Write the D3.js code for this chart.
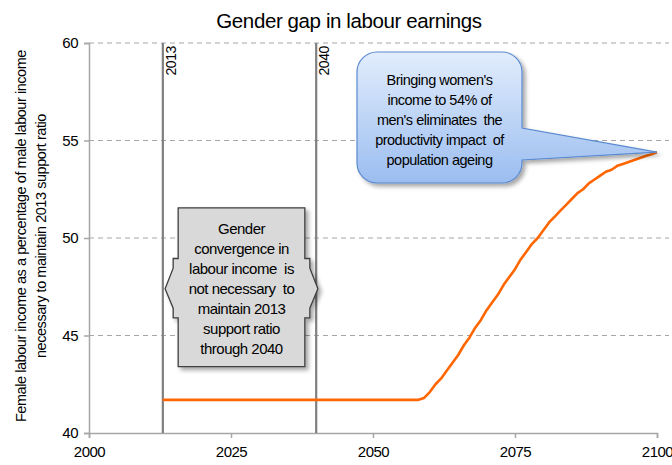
<!DOCTYPE html>
<html>
  <head>
    <title>Gender gap in labour earnings</title>
    <script src="https://cdn.jsdelivr.net/npm/d3@7"></script>
    <style>
      body {
        margin: 0;
        background: white;
      }
      svg {
        font-family: "Liberation Sans", Arial, sans-serif;
      }
      text {
        white-space: pre;
      }
    </style>
  </head>
  <body>
    <script>
    // data
    var years = [2013, 2058, 2059, 2060, 2061, 2062, 2063, 2064, 2065, 2066, 2067, 2068, 2069,
      2070, 2071, 2072, 2073, 2074, 2075, 2076, 2077, 2078, 2079, 2080, 2081, 2082, 2083,
      2084, 2085, 2086, 2087, 2088, 2089, 2090, 2091, 2092, 2093, 2094, 2095, 2096, 2097,
      2098, 2099, 2100];
    var values = [41.7, 41.7, 41.8, 42.1, 42.5, 42.8, 43.2, 43.6, 44.0, 44.5, 44.9, 45.4, 45.8,
      46.3, 46.7, 47.1, 47.6, 48.0, 48.4, 48.9, 49.3, 49.7, 50.0, 50.4, 50.8, 51.1, 51.4,
      51.7, 52.0, 52.3, 52.5, 52.8, 53.0, 53.2, 53.4, 53.5, 53.7, 53.8, 53.9, 54.0, 54.1,
      54.2, 54.3, 54.4];
    var xTicks = [2000, 2025, 2050, 2075, 2100];
    var yTicks = [40, 45, 50, 55, 60];
    var markerYears = [2013, 2040];

    var title = "Gender gap in labour earnings";
    var yLabel = ["Female labour income as a percentage of male labour income",
      "necessary to maintain 2013 support ratio"];
    var grayNote = ["Gender", "convergence in", "labour income  is", "not necessary  to",
      "maintain 2013", "support ratio", "through 2040"];
    var blueNote = ["Bringing women's", "income to 54% of", "men's eliminates  the",
      "productivity impact  of", "population ageing"];

    var W = 672, H = 465;
    var svg = d3.select("body").append("svg")
      .attr("width", W)
      .attr("height", H);

    var x = d3.scaleLinear().domain([2000, 2100]).range([89, 657]);
    var y = d3.scaleLinear().domain([40, 60]).range([433, 43]);

    var defs = svg.append("defs");
    var f = defs.append("filter").attr("id", "shadow")
      .attr("x", "-20%").attr("y", "-20%").attr("width", "150%").attr("height", "150%");
    f.append("feDropShadow").attr("dx", 3).attr("dy", 3)
      .attr("stdDeviation", 2).attr("flood-color", "#000").attr("flood-opacity", 0.35);
    var g = defs.append("linearGradient").attr("id", "blue")
      .attr("x1", 0).attr("y1", 0).attr("x2", 0).attr("y2", 1);
    g.append("stop").attr("offset", "0%").attr("stop-color", "#e2edfc");
    g.append("stop").attr("offset", "100%").attr("stop-color", "#9bbdf0");

    // title
    svg.append("text")
      .attr("x", 349).attr("y", 28)
      .attr("text-anchor", "middle")
      .style("font-size", "20.5px")
      .style("letter-spacing", "-0.4px")
      .text(title);

    // grid
    svg.selectAll(".grid")
      .data(yTicks.slice(1))
      .enter().append("line")
      .attr("x1", x(2000)).attr("x2", 669)
      .attr("y1", function (d) { return y(d); })
      .attr("y2", function (d) { return y(d); })
      .attr("stroke", "#a6a6a6")
      .attr("stroke-dasharray", "5,4");

    // axes
    var xAxis = svg.append("g")
      .attr("transform", "translate(0," + y(40) + ")")
      .call(d3.axisBottom(x).tickValues(xTicks).tickFormat(d3.format("d")).tickSize(5).tickPadding(8));
    var yAxis = svg.append("g")
      .attr("transform", "translate(" + x(2000) + ",0)")
      .call(d3.axisLeft(y).tickValues(yTicks).tickSize(5).tickPadding(6));
    [xAxis, yAxis].forEach(function (a) {
      a.select(".domain").attr("stroke", "#a6a6a6").attr("stroke-width", 1.5);
      a.selectAll(".tick line").attr("stroke", "#a6a6a6").attr("stroke-width", 1.5);
      a.selectAll("text").style("font-size", "15px").style("font-family", "Liberation Sans, Arial")
        .style("letter-spacing", "-0.5px").attr("fill", "#000");
    });

    // y label
    yLabel.forEach(function (t, i) {
      svg.append("text")
        .attr("transform", "translate(" + (26 + i * 20) + "," + y(50.1) + ") rotate(-90)")
        .attr("text-anchor", "middle")
        .style("font-size", "14.5px")
        .style("letter-spacing", "-0.45px")
        .text(t);
    });

    // marker lines
    markerYears.forEach(function (m) {
      svg.append("line")
        .attr("x1", x(m)).attr("x2", x(m))
        .attr("y1", y(60)).attr("y2", y(40))
        .attr("stroke", "#7f7f7f")
        .attr("stroke-width", 2.2);
      svg.append("text")
        .attr("transform", "translate(" + (x(m) + 13) + "," + (y(60) + 3) + ") rotate(-90)")
        .attr("text-anchor", "end")
        .style("font-size", "14px")
        .style("letter-spacing", "-0.4px")
        .text(m);
    });

    // series
    var pts = years.map(function (d, i) { return [d, values[i]]; });
    svg.append("path")
      .datum(pts)
      .attr("fill", "none")
      .attr("stroke", "#ff6600")
      .attr("stroke-width", 2.6)
      .attr("stroke-linejoin", "round")
      .attr("d", d3.line()
        .x(function (d) { return x(d[0]); })
        .y(function (d) { return y(d[1]); }));

    // gray left-right arrow callout
    var L = x(2015.7), R = x(2038), T = y(51.55), B = y(43.4);
    var a1 = y(48.95), a2 = y(45.9), am = y(47.4), a3 = y(48.45), a4 = y(46.4);
    var tl = x(2013.4), tr = x(2040.3);
    var grayPath = [
      [L, T], [R, T], [R, a1], [R + 5, a1], [R + 5, a3], [tr, am], [R + 5, a4], [R + 5, a2],
      [R, a2], [R, B], [L, B], [L, a2], [L - 5, a2], [L - 5, a4], [tl, am], [L - 5, a3],
      [L - 5, a1], [L, a1]
    ];
    svg.append("path")
      .attr("d", "M" + grayPath.join("L") + "Z")
      .attr("fill", "#d9d9d9")
      .attr("stroke", "#3f3f3f")
      .attr("stroke-width", 1.3)
      .attr("filter", "url(#shadow)");
    grayNote.forEach(function (t, i) {
      svg.append("text")
        .attr("x", (L + R) / 2).attr("y", T + 26 + i * 20)
        .attr("text-anchor", "middle")
        .style("font-size", "15px")
        .style("letter-spacing", "-0.5px")
        .text(t);
    });

    // blue rounded callout pointing to the end of the line
    var bl = 357, br = 522, bt = 52, bb = 183, r = 20;
    var tipX = x(years[years.length - 1]), tipY = y(values[values.length - 1]);
    var bluePath = "M" + (bl + r) + "," + bt +
      "L" + (br - r) + "," + bt +
      "A" + r + "," + r + " 0 0 1 " + br + "," + (bt + r) +
      "L" + br + ",128" +
      "L" + tipX + "," + tipY +
      "L" + br + ",160" +
      "L" + br + "," + (bb - r) +
      "A" + r + "," + r + " 0 0 1 " + (br - r) + "," + bb +
      "L" + (bl + r) + "," + bb +
      "A" + r + "," + r + " 0 0 1 " + bl + "," + (bb - r) +
      "L" + bl + "," + (bt + r) +
      "A" + r + "," + r + " 0 0 1 " + (bl + r) + "," + bt + "Z";
    svg.append("path")
      .attr("d", bluePath)
      .attr("fill", "url(#blue)")
      .attr("stroke", "#5a8ad0")
      .attr("stroke-width", 1.2)
      .attr("filter", "url(#shadow)");
    blueNote.forEach(function (t, i) {
      svg.append("text")
        .attr("x", (bl + br) / 2).attr("y", 85 + i * 20)
        .attr("text-anchor", "middle")
        .style("font-size", "14.5px")
        .style("letter-spacing", "-0.5px")
        .text(t);
    });
    </script>
  </body>
</html>
